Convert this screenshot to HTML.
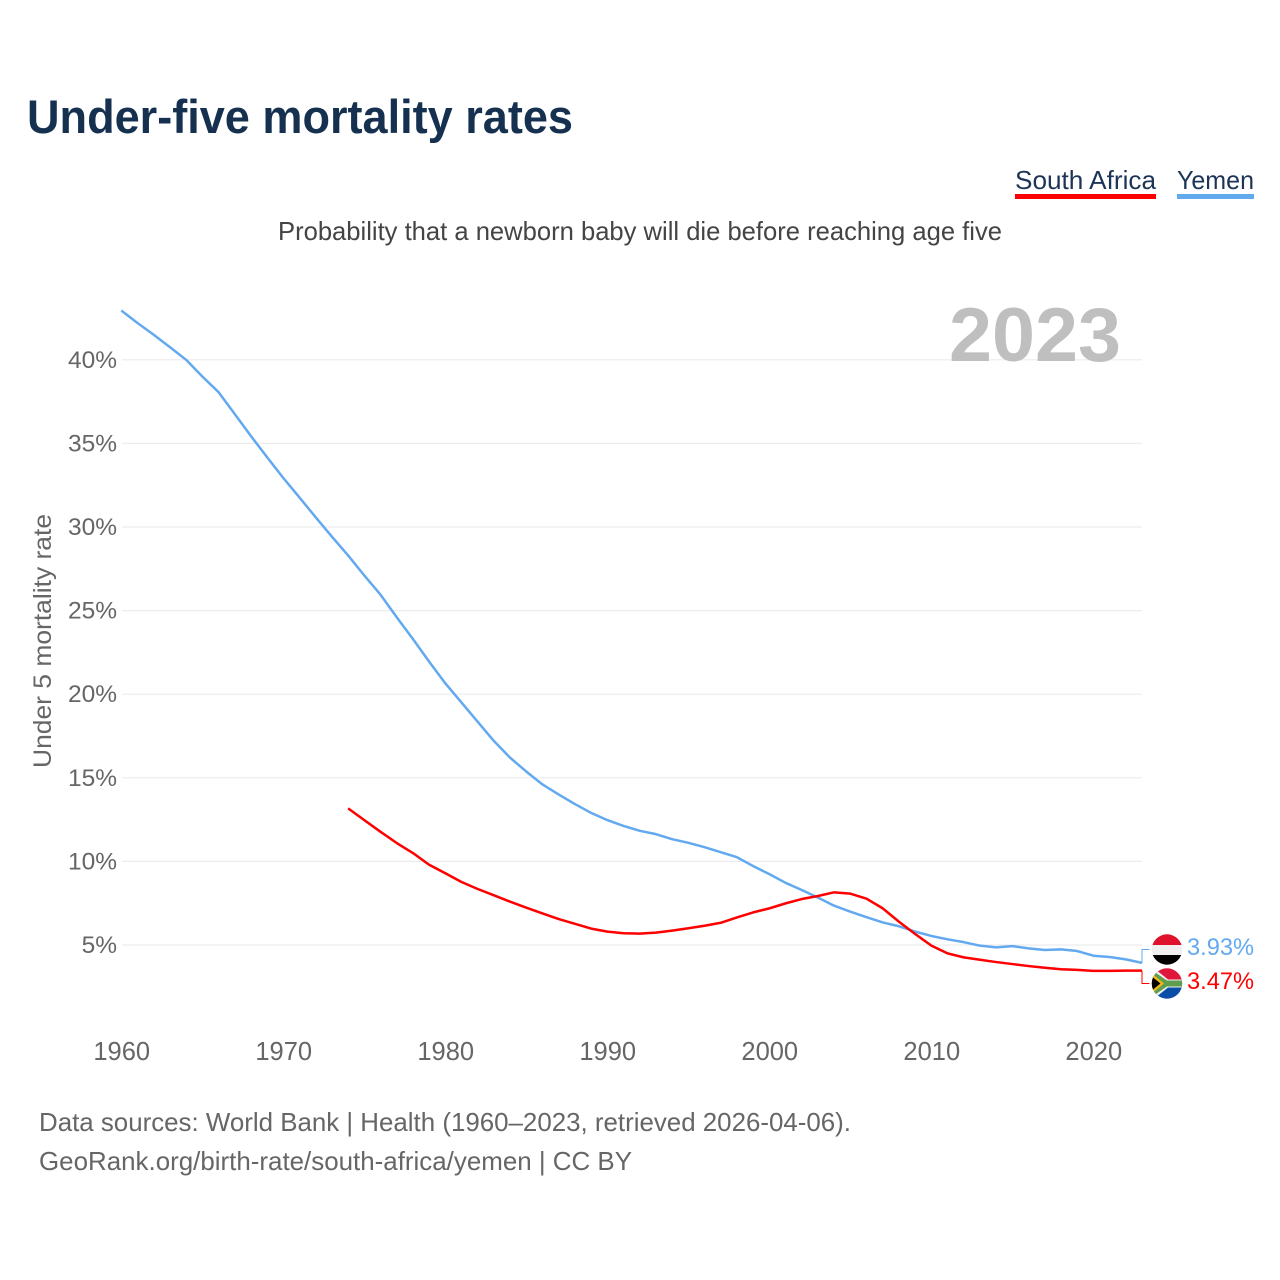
<!DOCTYPE html>
<html lang="en">
<head>
<meta charset="utf-8">
<title>Under-five mortality rates</title>
<style>
html,body{margin:0;padding:0;background:#fff;}
svg{display:block;font-family:"Liberation Sans",sans-serif;}
</style>
</head>
<body>
<svg id="chart" xmlns="http://www.w3.org/2000/svg" width="1280" height="1280" viewBox="0 0 1280 1280">
  <defs>
    <clipPath id="clip-yemen"><circle cx="1167" cy="949.5" r="15.2"/></clipPath>
    <clipPath id="clip-sa"><circle cx="1167" cy="983.5" r="15.2"/></clipPath>
  </defs>
  <rect x="0" y="0" width="1280" height="1280" fill="#fff"/>
  <text x="27" y="133" font-size="47" font-weight="700" fill="#163150" textLength="546" lengthAdjust="spacingAndGlyphs">Under-five mortality rates</text>

  <g>
    <text x="1015" y="189" font-size="26" fill="#1c3557" textLength="141" lengthAdjust="spacingAndGlyphs">South Africa</text>
    <rect x="1015" y="194" width="141" height="5" fill="#ff0000"/>
  </g>
  <g>
    <text x="1177" y="189" font-size="26" fill="#1c3557" textLength="77" lengthAdjust="spacingAndGlyphs">Yemen</text>
    <rect x="1177" y="194" width="77" height="5" fill="#63a9ef"/>
  </g>

  <text x="278" y="240" font-size="26" fill="#444" textLength="724" lengthAdjust="spacingAndGlyphs">Probability that a newborn baby will die before reaching age five</text>

  <g id="grid"></g>

  <text x="949" y="361" font-size="76" font-weight="700" fill="#bfbfbf" textLength="172" lengthAdjust="spacingAndGlyphs">2023</text>

  <g id="y-ticks"></g>
  <g id="x-ticks"></g>
  <text transform="translate(51,641) rotate(-90)" text-anchor="middle" font-size="25" fill="#666" textLength="254" lengthAdjust="spacingAndGlyphs">Under 5 mortality rate</text>

  <g id="series"></g>

  <g clip-path="url(#clip-yemen)">
    <rect x="1150" y="934" width="34" height="11" fill="#e0112b"/>
    <rect x="1150" y="945" width="34" height="10" fill="#f0f0f0"/>
    <rect x="1150" y="955" width="34" height="11" fill="#000"/>
  </g>
  <g clip-path="url(#clip-sa)">
    <rect x="1150" y="968" width="34" height="15.5" fill="#e0173d"/>
    <rect x="1150" y="983.5" width="34" height="16" fill="#0b4ea8"/>
    <path d="M1150 965 L1168 979.5 H1184 V987.5 H1168 L1150 1002 Z" fill="#f2f2f2"/>
    <path d="M1148 967.5 L1167 980.5 H1184 V986.5 H1167 L1148 999.5 Z" fill="#5f9e4f"/>
    <path d="M1150 972 L1164 983.5 L1150 995 Z" fill="#f5b914"/>
    <path d="M1150 975 L1160.5 983.5 L1150 992 Z" fill="#000"/>
  </g>

  <text x="1187" y="955" font-size="24" fill="#63a9ef" textLength="67" lengthAdjust="spacingAndGlyphs">3.93%</text>
  <text x="1187" y="989" font-size="24" fill="#ff0000" textLength="67" lengthAdjust="spacingAndGlyphs">3.47%</text>

  <text x="39" y="1131" font-size="26" fill="#666" textLength="812" lengthAdjust="spacingAndGlyphs">Data sources: World Bank | Health (1960–2023, retrieved 2026-04-06).</text>
  <text x="39" y="1170" font-size="26" fill="#666" textLength="593" lengthAdjust="spacingAndGlyphs">GeoRank.org/birth-rate/south-africa/yemen | CC BY</text>
</svg>
<script>
var years = [1960,1961,1962,1963,1964,1965,1966,1967,1968,1969,1970,1971,1972,1973,1974,1975,1976,1977,1978,1979,1980,1981,1982,1983,1984,1985,1986,1987,1988,1989,1990,1991,1992,1993,1994,1995,1996,1997,1998,1999,2000,2001,2002,2003,2004,2005,2006,2007,2008,2009,2010,2011,2012,2013,2014,2015,2016,2017,2018,2019,2020,2021,2022,2023];
var yemenValues = [42.95,42.2,41.5,40.76,40.0,39.0,38.07,36.76,35.44,34.17,32.93,31.76,30.58,29.42,28.3,27.1,25.95,24.6,23.3,21.95,20.65,19.5,18.35,17.2,16.2,15.37,14.6,14.0,13.43,12.9,12.47,12.12,11.83,11.63,11.33,11.11,10.85,10.55,10.25,9.72,9.24,8.72,8.29,7.83,7.35,6.99,6.66,6.35,6.12,5.8,5.54,5.34,5.17,4.96,4.86,4.93,4.8,4.7,4.74,4.64,4.36,4.28,4.14,3.93];
var southAfricaValues = [null,null,null,null,null,null,null,null,null,null,null,null,null,null,13.17,12.47,11.77,11.1,10.5,9.8,9.29,8.77,8.35,7.97,7.59,7.23,6.89,6.55,6.27,5.98,5.8,5.7,5.68,5.74,5.86,6.0,6.15,6.33,6.65,6.95,7.19,7.49,7.75,7.93,8.15,8.07,7.77,7.19,6.39,5.66,4.96,4.5,4.26,4.12,3.98,3.86,3.74,3.64,3.55,3.51,3.45,3.45,3.47,3.47];
var yTickValues = [5,10,15,20,25,30,35,40];
var xTickValues = [1960,1970,1980,1990,2000,2010,2020];

var NS = 'http://www.w3.org/2000/svg';
function xScale(year){ return 121.3 + (year - 1960) * (1142 - 121.3) / (2023 - 1960); }
function yScale(v){ return 945 - (v - 5) * 16.72; }
function make(tag, attrs, parent){
  var el = document.createElementNS(NS, tag);
  for (var k in attrs) { el.setAttribute(k, attrs[k]); }
  parent.appendChild(el);
  return el;
}
var gridGroup = document.getElementById('grid');
var yTickGroup = document.getElementById('y-ticks');
var xTickGroup = document.getElementById('x-ticks');
var seriesGroup = document.getElementById('series');

yTickValues.forEach(function(v){
  var line = make('line', {x1:122, x2:1142, y1:yScale(v), y2:yScale(v), stroke:'#ececec', 'stroke-width':1.2}, gridGroup);
  
  
  var label = make('text', {x:117, y:yScale(v) + 8, 'text-anchor':'end', 'font-size':24.5, fill:'#666'}, yTickGroup);
  label.textContent = v + '%';
  
  
});
xTickValues.forEach(function(t){
  var label = make('text', {x:xScale(t) + 0.4, y:1060, 'text-anchor':'middle', 'font-size':25.5, fill:'#666'}, xTickGroup);
  label.textContent = t;
  
  
});
function pathFor(values){
  var d = '';
  values.forEach(function(v, i){
    if (v === null) { return; }
    d += (d ? 'L' : 'M') + xScale(years[i]).toFixed(2) + ' ' + yScale(v).toFixed(2);
  });
  return d;
}
function lastValue(values){ return values[values.length - 1]; }

var yemenLine = make('path', {d:pathFor(yemenValues), fill:'none', stroke:'#63a9ef', 'stroke-width':2.5, 'stroke-linejoin':'round'}, seriesGroup);


var saLine = make('path', {d:pathFor(southAfricaValues), fill:'none', stroke:'#ff0000', 'stroke-width':2.5, 'stroke-linejoin':'round'}, seriesGroup);



var yemenLeader = make('path', {d:'M1142 ' + yScale(lastValue(yemenValues)).toFixed(2) + 'V949.5H1149.5', fill:'none', stroke:'#63a9ef', 'stroke-width':1}, seriesGroup);


var saLeader = make('path', {d:'M1142 ' + yScale(lastValue(southAfricaValues)).toFixed(2) + 'V983.5H1149.5', fill:'none', stroke:'#ff0000', 'stroke-width':1}, seriesGroup);


</script>
</body>
</html>
